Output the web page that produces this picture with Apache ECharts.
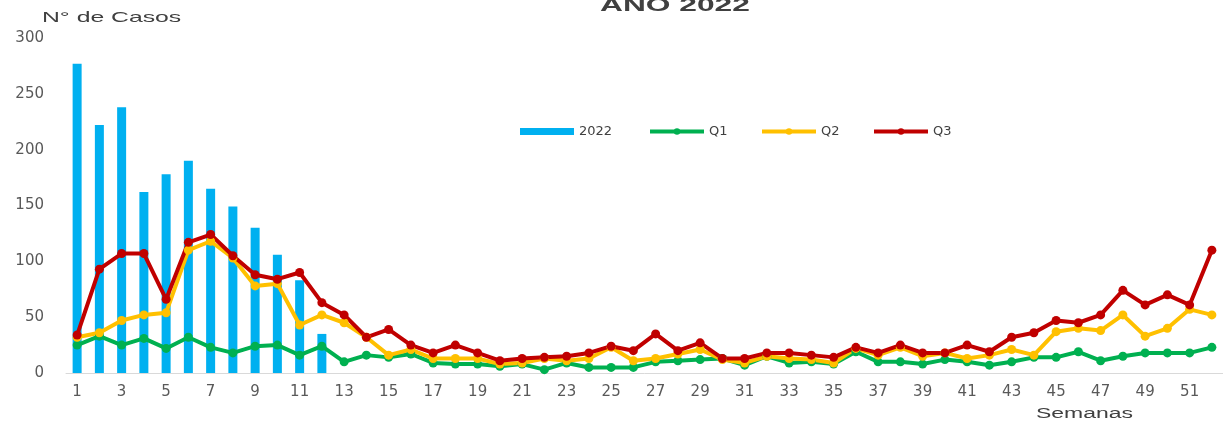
<!DOCTYPE html>
<html><head><meta charset="utf-8">
<script src="https://cdn.jsdelivr.net/npm/echarts@6/dist/echarts.min.js"></script>
<style>html,body{margin:0;padding:0;background:#fff}#c{width:1223px;height:421px}</style>
</head><body><div id="c"></div>
<script>
const weeks = Array.from({length: 52}, (_, i) => String(i + 1));
const cases2022 = [277, 222, 238, 162, 178, 190, 165, 149, 130, 106, 83, 35];
const q1 = [25, 33, 25, 31, 22, 32, 23, 18, 24, 25, 16, 24, 10, 16, 14, 17, 9, 8, 8, 6, 8, 3, 9, 5, 5, 5, 10, 11, 12, 13, 7, 15, 9, 10, 8, 19, 10, 10, 8, 12, 10, 7, 10, 14, 14, 19, 11, 15, 18, 18, 18, 23];
const q2 = [32, 36, 47, 52, 54, 110, 118, 103, 78, 80, 43, 52, 45, 32, 16, 21, 13, 13, 13, 8, 9, 13, 11, 13, 23, 11, 13, 17, 21, 12, 9, 15, 13, 12, 9, 22, 16, 23, 15, 18, 13, 16, 21, 16, 37, 40, 38, 52, 33, 40, 57, 52];
const q3 = [34, 93, 107, 107, 66, 117, 124, 105, 88, 84, 90, 63, 52, 32, 39, 25, 18, 25, 18, 11, 13, 14, 15, 18, 24, 20, 35, 20, 27, 13, 13, 18, 18, 16, 14, 23, 18, 25, 18, 18, 25, 19, 32, 36, 47, 45, 52, 74, 61, 70, 61, 110];

const seriesNames = ['2022', 'Q1', 'Q2', 'Q3'];
const seriesColors = ['#00B0F0', '#00B050', '#FFC000', '#C00000'];

const chart = echarts.init(document.getElementById('c'));
const font = 'DejaVu Sans, sans-serif';
const lineSeries = (i, data) => ({
  name: seriesNames[i], type: 'line', data, color: seriesColors[i],
  symbol: 'circle', symbolSize: 9,
  lineStyle: {width: 4, color: seriesColors[i]},
  itemStyle: {color: seriesColors[i]},
  z: 3
});
const legendLefts = [520, 648, 760, 872];
const stretchedText = (text, x, y, size, weight, sx) => ({
  type: 'text', x, y, scaleX: sx, scaleY: 1, silent: true,
  style: {text, x: 0, y: 0, fill: '#404040', verticalAlign: 'top',
          font: weight + ' ' + size + 'px "Liberation Sans", Arial, sans-serif'}
});
chart.setOption({
  animation: false,
  textStyle: {fontFamily: font},
  graphic: [
    stretchedText('AÑO 2022', 600, -4, 19, 'bold', 1.67),
    stretchedText('N° de Casos', 42, 10, 15, 'normal', 1.65),
    stretchedText('Semanas', 1036, 407, 14, 'normal', 1.64)
  ],
  legend: seriesNames.map((n, i) => ({
    left: legendLefts[i], top: 125, itemWidth: 54, itemHeight: i === 0 ? 7 : 8,
    padding: 0,
    textStyle: {fontSize: 13, color: '#404040', fontFamily: font},
    lineStyle: {width: 4},
    data: [i === 0 ? {name: n, icon: 'rect'} : {name: n}]
  })),
  grid: {left: 66, width: 1162, top: 38, bottom: 48},
  xAxis: {
    type: 'category', data: weeks, boundaryGap: true,
    axisLine: {lineStyle: {color: '#d9d9d9', width: 1}},
    axisTick: {show: false},
    axisLabel: {interval: 1, color: '#595959', fontSize: 15, margin: 12, fontFamily: font}
  },
  yAxis: {
    type: 'value', min: 0, max: 300, interval: 50,
    splitLine: {show: false},
    axisLine: {show: false}, axisTick: {show: false},
    axisLabel: {color: '#595959', fontSize: 15, margin: 22, fontFamily: font}
  },
  series: [
    {name: seriesNames[0], type: 'bar', data: cases2022, barWidth: 9, color: seriesColors[0],
     itemStyle: {color: seriesColors[0]}, z: 2},
    lineSeries(1, q1),
    lineSeries(2, q2),
    lineSeries(3, q3)
  ]
});
</script></body></html>
